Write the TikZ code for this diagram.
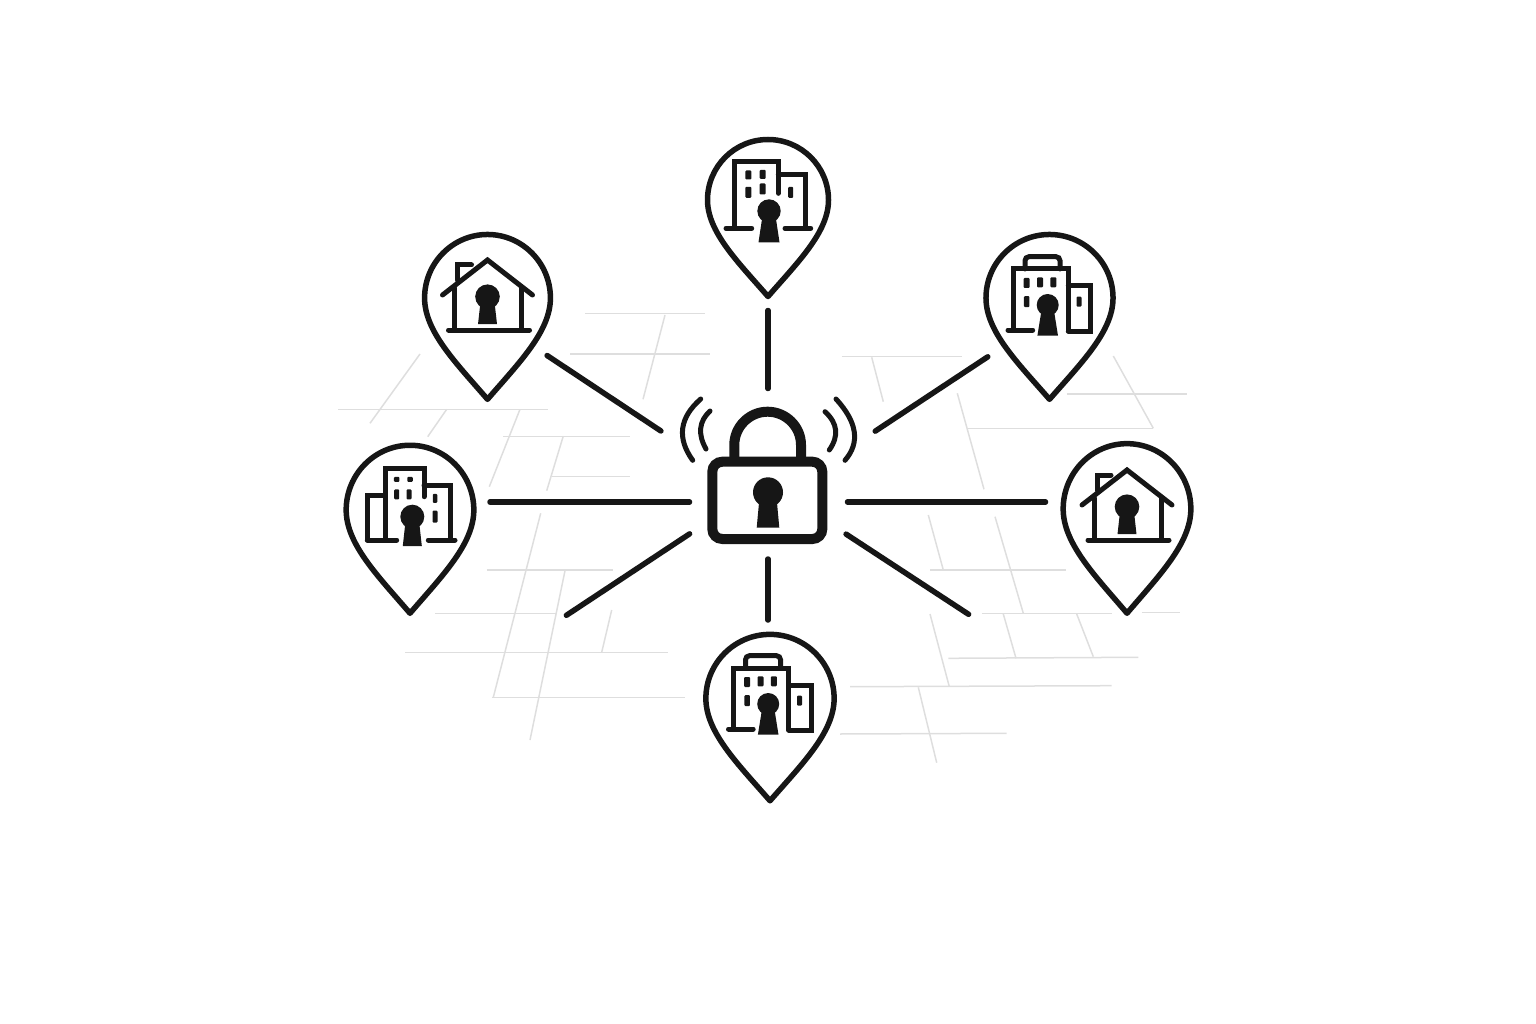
\documentclass[tikz,border=0pt]{standalone}
\usepackage{tikz}
\usetikzlibrary{calc}
\definecolor{inkblack}{RGB}{22,22,22}
\definecolor{streetgrey}{RGB}{222,222,222}
\newcommand{\pane}[4]{\fill[inkblack,rounded corners=1pt] (#1,#2) ++(-#3/2,-#4/2) rectangle ++(#3,#4);}
\tikzset{
    street/.style={streetgrey,line width=1.5pt},
    spoke/.style={inkblack,line width=5.5pt,line cap=round},
    pinline/.style={inkblack,line width=5.5pt,line join=round},
    iconline/.style={inkblack,line width=5pt,line join=miter,line cap=round},
    lockline/.style={inkblack,line width=10pt},
    waveline/.style={inkblack,line width=5pt,line cap=round},
    pinbox/.style={rectangle,minimum width=128pt,minimum height=166pt,inner sep=0pt,outer sep=0pt},
    lockbox/.style={rectangle,minimum width=120pt,minimum height=88pt,inner sep=0pt,outer sep=0pt},
    pics/pinmark/.style={code={
        \draw[pinline] (0,96.5) .. controls (-30,62) and (-60.5,32) .. (-60.5,0)
            .. controls (-60.5,-33.4) and (-33.4,-60.5) .. (0,-60.5)
            .. controls (33.4,-60.5) and (60.5,-33.4) .. (60.5,0)
            .. controls (60.5,32) and (30,62) .. (0,96.5) -- cycle;
    }},
    pics/keyhole/.style n args={3}{code={
        \fill[inkblack] (0,0) circle[radius=#1];
        \fill[inkblack] (-.6*#1,.7*#1) -- (-#3,#2) -- (#3,#2) -- (.6*#1,.7*#1) -- cycle;
    }},
    pics/houseicon/.style={code={
        \draw[iconline] (-45,-3) -- (0,-38) -- (45,-3);
        \draw[iconline] (-30,-18) -- (-30,-33) -- (-16,-33);
        \draw[iconline] (-33,-10) -- (-33,30);
        \draw[iconline] (34,-10) -- (34,30);
        \draw[iconline] (-39,32) -- (42,32);
        \pic at (0,-1.3) {keyhole={12.3}{27.5}{9.5}};
    }},
    pics/officetall/.style={code={
        \draw[iconline] (-34,28.3) -- (-34,-38.3) -- (10.3,-38.3) -- (10.3,-6.7);
        \draw[iconline] (10.3,-25) -- (37,-25) -- (37,28.3);
        \draw[iconline] (-42,28.3) -- (-16.3,28.3);
        \draw[iconline] (17,28.3) -- (42.7,28.3);
        \pane{-19.7}{-25}{6}{9} \pane{-5.3}{-25.7}{6}{9}
        \pane{-19.7}{-7.7}{6}{11} \pane{-5.3}{-11}{6}{11} \pane{22.7}{-7.7}{5}{11}
        \pic at (1,11) {keyhole={11.7}{31.3}{10.5}};
    }},
    pics/officewide/.style={code={
        \draw[iconline] (-41.7,30) -- (-41.7,-15) -- (-24,-15);
        \draw[iconline] (-24,30) -- (-24,-41.7) -- (15,-41.7) -- (15,-13.3);
        \draw[iconline] (15,-25) -- (41,-25) -- (41,30);
        \draw[iconline] (-41.7,30) -- (-12.3,30);
        \draw[iconline] (19.3,30) -- (46,30);
        \pane{-12.3}{-30.7}{5.5}{5} \pane{1}{-30.7}{5.5}{5}
        \pane{-12.3}{-15.7}{5}{10} \pane{0}{-15.7}{5}{10}
        \pane{26}{-11.7}{4.5}{9} \pane{26}{6.7}{5}{12}
        \pic at (3.3,6.7) {keyhole={12}{29.3}{9.5}};
    }},
    pics/officecap/.style={code={
        \draw[iconline,rounded corners=4pt] (-24.5,-29) -- (-24.5,-41.3) -- (10.5,-41.3) -- (10.5,-29);
        \draw[iconline] (-36.2,32) -- (-36.2,-29) -- (18.8,-29) -- (18.8,33);
        \draw[iconline] (18.8,-12) -- (41.2,-12) -- (41.2,33) -- (18.8,33);
        \draw[iconline] (-41.5,32) -- (-16.8,32);
        \pane{-22.8}{-15}{6}{10} \pane{-9.5}{-15.7}{6}{10} \pane{3.8}{-15.7}{6}{10}
        \pane{-22.8}{3.7}{5.5}{11} \pane{29.5}{3.7}{5}{10}
        \pic at (-1.8,7) {keyhole={11}{30.7}{10.3}};
    }}
}
\begin{document}
\begin{tikzpicture}[x=1pt,y=-1pt]
    \useasboundingbox (0,0) rectangle (1536,1024);
    % faint street grid behind everything
    \foreach \ax/\ay/\bx/\by in {585/313.3/705/313.3,665/315/643/399.3,570/354/710/354,
        420/354/370/423.3,338.3/409.3/548.3/409.3,446.7/409.3/427.7/436.7,520/409.3/489.3/486.7,
        503.3/436.7/630/436.7,563.3/436/546.7/490.7,551.7/476.7/630/476.7,540.7/513.3/493.3/697.3,
        486.7/570/613.3/570,565/570.7/530/740,435/613.3/556.7/613.3,611.7/610/601.7/652.3,
        405/652.7/668.3/652.7,491.7/697.3/685/697.3,
        841.7/356.7/961.7/356.7,871.7/357.3/883.3/401.7,1113.3/356/1153.3/428.3,
        1066.7/394/1187/394,966.7/428.3/1153.3/428.3,957.3/393.3/984/489.3,928.3/515/943.3/570,
        995/516.7/1023.3/613.3,930/570/1066/570,981.7/613.3/1111.7/613.3,1141.7/612.7/1180/612.7,
        1003.3/614/1016/658.3,1076.7/614/1093.3/656.7,948.3/658.3/1138.3/657.3,930/614/949.3/686.7,
        850/686.7/1111.7/685.7,918.3/687.3/936.7/762.7,840/734/1006.7/733.3} {
      \draw[street] (\ax,\ay) -- (\bx,\by);
    }
    % location pins
    \foreach \nm/\px/\py/\sx/\sy in {pinN/768/200/1/1,pinNW/487.5/298/1.04/1.05,pinNE/1049.5/298/1.05/1.05,
        pinW/410/510/1.055/1.07,pinE/1127/509/1.055/1.08,pinS/770/698.5/1.06/1.06} {
      \node[pinbox] (\nm) at (\px,\py+18) {};
      \pic[xscale=\sx,yscale=\sy] at (\px,\py) {pinmark};
    }
    \pic at (768,200) {officetall};
    \pic at (487.5,298) {houseicon};
    \pic at (1049.5,298) {officecap};
    \pic at (409,510) {officewide};
    \pic at (1127,508) {houseicon};
    \pic at (770,697) {officecap};
    % padlock in the middle
    \node[lockbox] (lock) at (768,502) {};
    \draw[lockline,rounded corners=10pt] (712.3,461.7) rectangle (822.3,539);
    \draw[lockline] (734.3,461) -- (734.3,445) .. controls (734.3,426.5) and (749.5,411.7) .. (767.6,411.7)
        .. controls (785.8,411.7) and (801,426.5) .. (801,445) -- (801,461);
    \pic at (768,492.3) {keyhole={15}{35.4}{11.3}};
    \draw[waveline] (700.7,399) .. controls (679.4,417.7) and (676.7,438.1) .. (692.7,460.3);
    \draw[waveline] (710,411) .. controls (698.9,421.4) and (697.6,434) .. (706,449);
    \draw[waveline] (836,399) .. controls (857.3,422.2) and (860.3,442.6) .. (845,460.3);
    \draw[waveline] (825,411.7) .. controls (837.7,423.2) and (839.1,436) .. (829.3,450);
    % spokes
    \coordinate (tailSE) at (970.7,615.7);
    \coordinate (tailSW) at (564.3,616.7);
    \draw[spoke,shorten <=113.5pt,shorten >=92.5pt] (lock.center) -- (pinN.center);
    \draw[spoke,shorten <=128.5pt,shorten >=74pt] (lock.center) -- (pinNE.center);
    \draw[spoke,shorten <=128.5pt,shorten >=71.5pt] (lock.center) -- (pinNW.center);
    \draw[spoke,shorten <=79.5pt,shorten >=81.5pt] (lock.center) -- (lock.center -| pinE.center);
    \draw[spoke,shorten <=78.5pt,shorten >=80pt] (lock.center) -- (lock.center -| pinW.center);
    \draw[spoke,shorten <=57pt,shorten >=96.5pt] (lock.center) -- (lock.center |- pinS.center);
    \draw[spoke,shorten <=93.3pt,shorten >=2.5pt] ([yshift=19pt]lock.center) -- (tailSE);
    \draw[spoke,shorten <=94pt,shorten >=2.5pt] ([yshift=20pt]lock.center) -- (tailSW);
\end{tikzpicture}
\end{document}
